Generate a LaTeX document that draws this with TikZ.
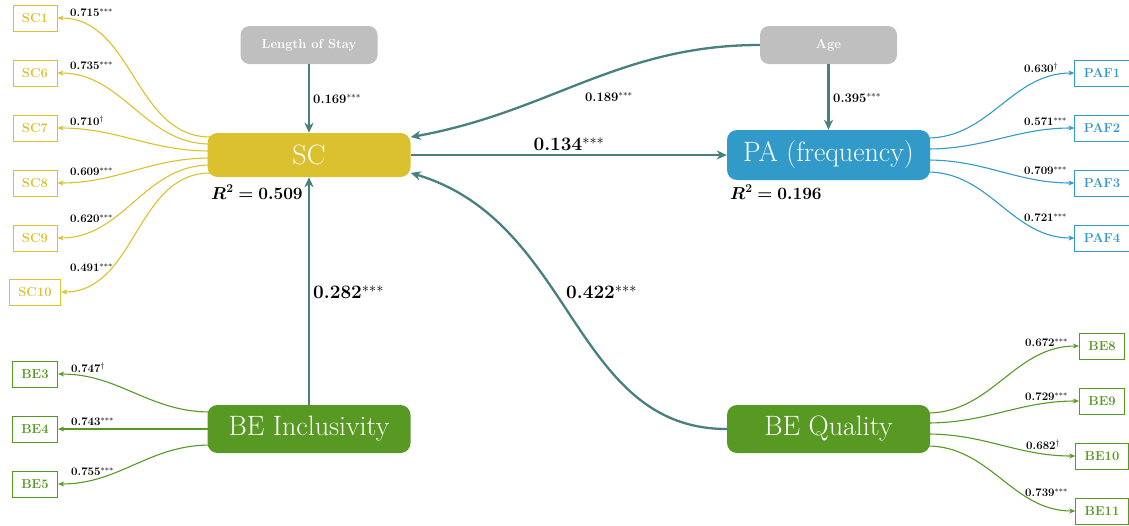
\documentclass[tikz,border=0pt]{standalone}
\usepackage{bm}
\usetikzlibrary{arrows.meta,calc,backgrounds}
\definecolor{scY}{RGB}{219,193,46}
\definecolor{paB}{RGB}{50,154,200}
\definecolor{beG}{RGB}{87,153,35}
\definecolor{grayN}{RGB}{191,191,191}
\definecolor{tealC}{RGB}{72,128,128}
\newcommand{\rsqval}[1]{$\bm{R^{2}=#1}$}
\tikzset{
  main/.style={rounded corners=10pt, minimum width=203pt, inner sep=0pt, text=white,
    font=\fontsize{28}{32}\selectfont},
  cov/.style={rounded corners=9pt, fill=grayN, minimum width=137pt, minimum height=38pt,
    inner sep=0pt, text=white, font=\fontsize{13}{15}\selectfont\bfseries},
  indbox/.style={draw, line width=0.9pt, fill=white, inner xsep=9pt, inner ysep=0pt,
    minimum height=26pt, font=\fontsize{13}{15}\selectfont\bfseries},
  ind/.style={line width=1.1pt, -{Stealth[length=6pt,width=5pt]}},
  pathc/.style={draw=tealC, line width=2.3pt, -{Stealth[length=10pt,width=9pt,inset=3pt]}},
  lab/.style={font=\fontsize{11.5}{13}\selectfont\bfseries, inner sep=0pt, anchor=west},
  mlab/.style={font=\fontsize{13}{15}\selectfont\bfseries, inner sep=0pt},
  blab/.style={font=\fontsize{19}{22}\selectfont\bfseries, inner sep=0pt},
  rlab/.style={font=\fontsize{16.5}{19}\selectfont, inner sep=0pt, anchor=west},
}
\begin{document}
\begin{tikzpicture}[x=1pt,y=-1pt]
\useasboundingbox (0,0) rectangle (1129,525);

% main nodes
\node[main, fill=scY, minimum height=44pt] (sc) at (309,155) {SC};
\node[main, fill=paB, minimum height=50pt] (pa) at (828.5,155) {PA (frequency)};
\node[main, fill=beG, minimum height=48pt] (bei) at (309,429) {BE Inclusivity};
\node[main, fill=beG, minimum height=48pt] (beq) at (828.5,429) {BE Quality};
\node[cov] (los) at (309,45) {Length of Stay};
\node[cov] (age) at (828.5,45) {Age};

% indicator boxes
\foreach \n/\y in {1/18,6/73,7/128,8/183,9/238,10/292}
  \node[indbox, draw=scY, text=scY] (sc\n) at (35,\y) {SC\n};
\foreach \n/\y in {1/73,2/128,3/183,4/238}
  \node[indbox, draw=paB, text=paB] (paf\n) at (1102,\y) {PAF\n};
\foreach \n/\y in {3/374,4/429,5/484}
  \node[indbox, draw=beG, text=beG] (be\n) at (35,\y) {BE\n};
\foreach \n/\y in {8/346,9/401,10/456,11/511}
  \node[indbox, draw=beG, text=beG] (be\n) at (1102,\y) {BE\n};

\begin{pgfonlayer}{background}
% indicator connectors
\foreach \n/\d in {1/-18,6/-11,7/-4,8/3,9/10,10/18}
  \draw[ind, scY] ($(sc.west)+(3,\d)$) to[out=180,in=0] (sc\n.east);
\foreach \n/\d in {1/-17,2/-6,3/5,4/17}
  \draw[ind, paB] ($(pa.east)+(-3,\d)$) to[out=0,in=180] (paf\n.west);
\foreach \n/\d in {3/-17,4/0,5/16}
  \draw[ind, beG] ($(bei.west)+(3,\d)$) to[out=180,in=0] (be\n.east);
\foreach \n/\d in {8/-16,9/-6,10/5,11/17}
  \draw[ind, beG] ($(beq.east)+(-3,\d)$) to[out=0,in=180] (be\n.west);
\end{pgfonlayer}

% structural paths
\draw[pathc] (los) -- (sc);
\draw[pathc] (age) -- (pa);
\draw[pathc] (sc) -- (pa);
\draw[pathc] (bei) -- (sc);
\draw[pathc] (age.west) .. controls (619,45) and (550,112) .. (sc.10);
\draw[pathc] (beq.west) .. controls (572,429) and (575,222) .. (sc.-10);

% path labels
\node[mlab, anchor=west] (l169) at (313,99) {0.169$^{***}$};
\node[mlab] (l189) at (609,97) {0.189$^{***}$};
\node[mlab, anchor=west] (l395) at (833,98) {0.395$^{***}$};
\node[blab] (l134) at (569,144) {0.134$^{***}$};
\node[blab, anchor=west] (l282) at (313,292) {0.282$^{***}$};
\node[blab, anchor=west] (l422) at (566,292) {0.422$^{***}$};
\node[rlab] (rsqsc) at (211,192) {\rsqval{0.509}};
\node[rlab] (rsqpa) at (730,192) {\rsqval{0.196}};

% loading labels
\node[lab] (ls1) at (70,13) {0.715$^{***}$};
\node[lab] (ls6) at (70,66) {0.735$^{***}$};
\node[lab] (ls7) at (70,121) {0.710$^{\dagger}$};
\node[lab] (ls8) at (70,172) {0.609$^{***}$};
\node[lab] (ls9) at (70,219) {0.620$^{***}$};
\node[lab] (ls10) at (70,268) {0.491$^{***}$};
\node[lab] (lp1) at (1024,68) {0.630$^{\dagger}$};
\node[lab] (lp2) at (1024,122) {0.571$^{***}$};
\node[lab] (lp3) at (1024,171) {0.709$^{***}$};
\node[lab] (lp4) at (1024,218) {0.721$^{***}$};
\node[lab] (lb3) at (71,368) {0.747$^{\dagger}$};
\node[lab] (lb4) at (71,422) {0.743$^{***}$};
\node[lab] (lb5) at (71,472) {0.755$^{***}$};
\node[lab] (lb8) at (1025,343) {0.672$^{***}$};
\node[lab] (lb9) at (1025,397) {0.729$^{***}$};
\node[lab] (lb10) at (1026,445) {0.682$^{\dagger}$};
\node[lab] (lb11) at (1025,493) {0.739$^{***}$};
\end{tikzpicture}
\end{document}
